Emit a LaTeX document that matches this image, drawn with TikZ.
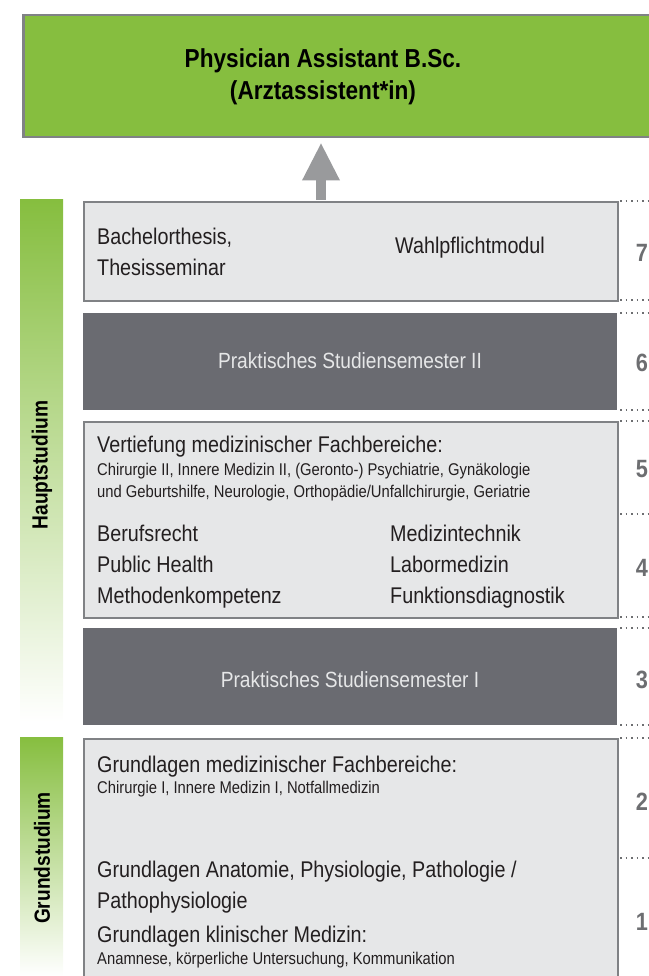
\documentclass[tikz,border=0pt]{standalone}
\usepackage{fontspec}
\setmainfont{Liberation Sans}[FakeStretch=0.87]
\usetikzlibrary{arrows.meta}

\definecolor{pagreen}{HTML}{86BE3F}
\definecolor{boxfill}{HTML}{E6E7E8}
\definecolor{slate}{HTML}{6A6B71}
\definecolor{rimgray}{HTML}{808285}
\definecolor{arrowgray}{HTML}{999A9C}
\definecolor{numgray}{HTML}{6D6E71}
\definecolor{inkblack}{HTML}{231F20}

\begin{document}
\begin{tikzpicture}[
        x=1pt, y=-1pt,
        lightbox/.style={draw=rimgray, line width=2pt, fill=boxfill, anchor=north west,
            inner sep=0pt, minimum width=534pt},
        darkbox/.style={fill=slate, anchor=north west, inner sep=0pt, minimum width=534pt},
        maintext/.style={anchor=base west, inner sep=0pt, text=inkblack,
            font=\fontsize{22.7}{26}\selectfont},
        smalltext/.style={anchor=base west, inner sep=0pt, text=inkblack,
            font=\fontsize{17}{20}\selectfont},
        practext/.style={anchor=base, inner sep=0pt, text=boxfill,
            font=\fontsize{22}{26}\selectfont},
        semnum/.style={anchor=base, inner sep=0pt, text=numgray,
            font=\bfseries\fontsize{25}{28}\selectfont},
        phase/.style={rotate=90, inner sep=0pt, text=black,
            font=\bfseries\fontsize{22}{24}\selectfont},
        dotline/.style={numgray, line width=1.5pt, dash pattern=on 1.5pt off 4pt}
    ]
        \useasboundingbox (0,0) rectangle (648,976);

        % --- Abschluss ---
        \node[draw=rimgray, line width=2.5pt, fill=pagreen, anchor=north west,
            minimum width=640pt, minimum height=122pt, inner sep=0pt] (degree) at (22,14) {};
        \node[align=center, inner sep=0pt, text=black,
            font=\bfseries\fontsize{26}{32}\selectfont] (title) at (323,77)
            {Physician Assistant B.Sc.\\(Arztassistent*in)};

        % --- Phasen links ---
        \shade[top color=pagreen, bottom color=white] (20,200) rectangle (63,722);
        \shade[top color=pagreen, bottom color=white] (20,737) rectangle (63,976);
        \node[phase] (haupt) at (42,465) {Hauptstudium};
        \node[phase] (grund) at (42,858) {Grundstudium};

        % --- Semesterblöcke ---
        \node[lightbox, minimum height=99pt] (sem7) at (83,201) {};
        \node[darkbox, minimum height=97pt] (sem6) at (83,313) {};
        \node[lightbox, minimum height=196pt] (sem45) at (83,421) {};
        \node[darkbox, minimum height=97pt] (sem3) at (83,628) {};
        \node[lightbox, minimum height=250pt] (sem12) at (83,738) {};

        % Pfeil zum Abschluss
        \coordinate (foot) at (321,200);
        \draw[-{Triangle[width=35pt, length=38pt]}, line width=10pt, arrowgray,
            shorten >=4pt] (foot) -- (foot |- degree.south);

        % Semester 7
        \node[maintext] (thesis) at (97,244) {Bachelorthesis,};
        \node[maintext] (seminar) at (97,275) {Thesisseminar};
        \node[maintext] (wahl) at (395,253) {Wahlpflichtmodul};

        % Semester 6 und 3
        \node[practext] (praxis2) at (350,368) {Praktisches Studiensemester II};
        \node[practext] (praxis1) at (350,687) {Praktisches Studiensemester I};

        % Semester 5 und 4
        \node[maintext] (vertiefung) at (97,452) {Vertiefung medizinischer Fachbereiche:};
        \node[smalltext] (vert1) at (97,475)
            {Chirurgie II, Innere Medizin II, (Geronto-) Psychiatrie, Gynäkologie};
        \node[smalltext] (vert2) at (97,497)
            {und Geburtshilfe, Neurologie, Orthopädie/Unfallchirurgie, Geriatrie};
        \node[maintext] (recht) at (97,541) {Berufsrecht};
        \node[maintext] (health) at (97,572) {Public Health};
        \node[maintext] (methoden) at (97,603) {Methodenkompetenz};
        \node[maintext] (technik) at (390,541) {Medizintechnik};
        \node[maintext] (labor) at (390,572) {Labormedizin};
        \node[maintext] (funktion) at (390,603) {Funktionsdiagnostik};

        % Semester 2 und 1
        \node[maintext] (grundmed) at (97,772) {Grundlagen medizinischer Fachbereiche:};
        \node[smalltext] (grundmed1) at (97,793) {Chirurgie I, Innere Medizin I, Notfallmedizin};
        \node[maintext] (anatomie) at (97,877) {Grundlagen Anatomie, Physiologie, Pathologie /};
        \node[maintext] (patho) at (97,908) {Pathophysiologie};
        \node[maintext] (klinik) at (97,942) {Grundlagen klinischer Medizin:};
        \node[smalltext] (klinik1) at (97,964) {Anamnese, körperliche Untersuchung, Kommunikation};

        % --- Semesterzahlen ---
        \foreach \y in {201,300,313,410,421,514,617,628,725,738,858}
            \draw[dotline] (620,\y) -- (648,\y);
        \foreach \n/\y in {7/261,6/371,5/477,4/576,3/688,2/810,1/930}
            \node[semnum] (num\n) at (642,\y) {\n};

    \end{tikzpicture}
\end{document}
